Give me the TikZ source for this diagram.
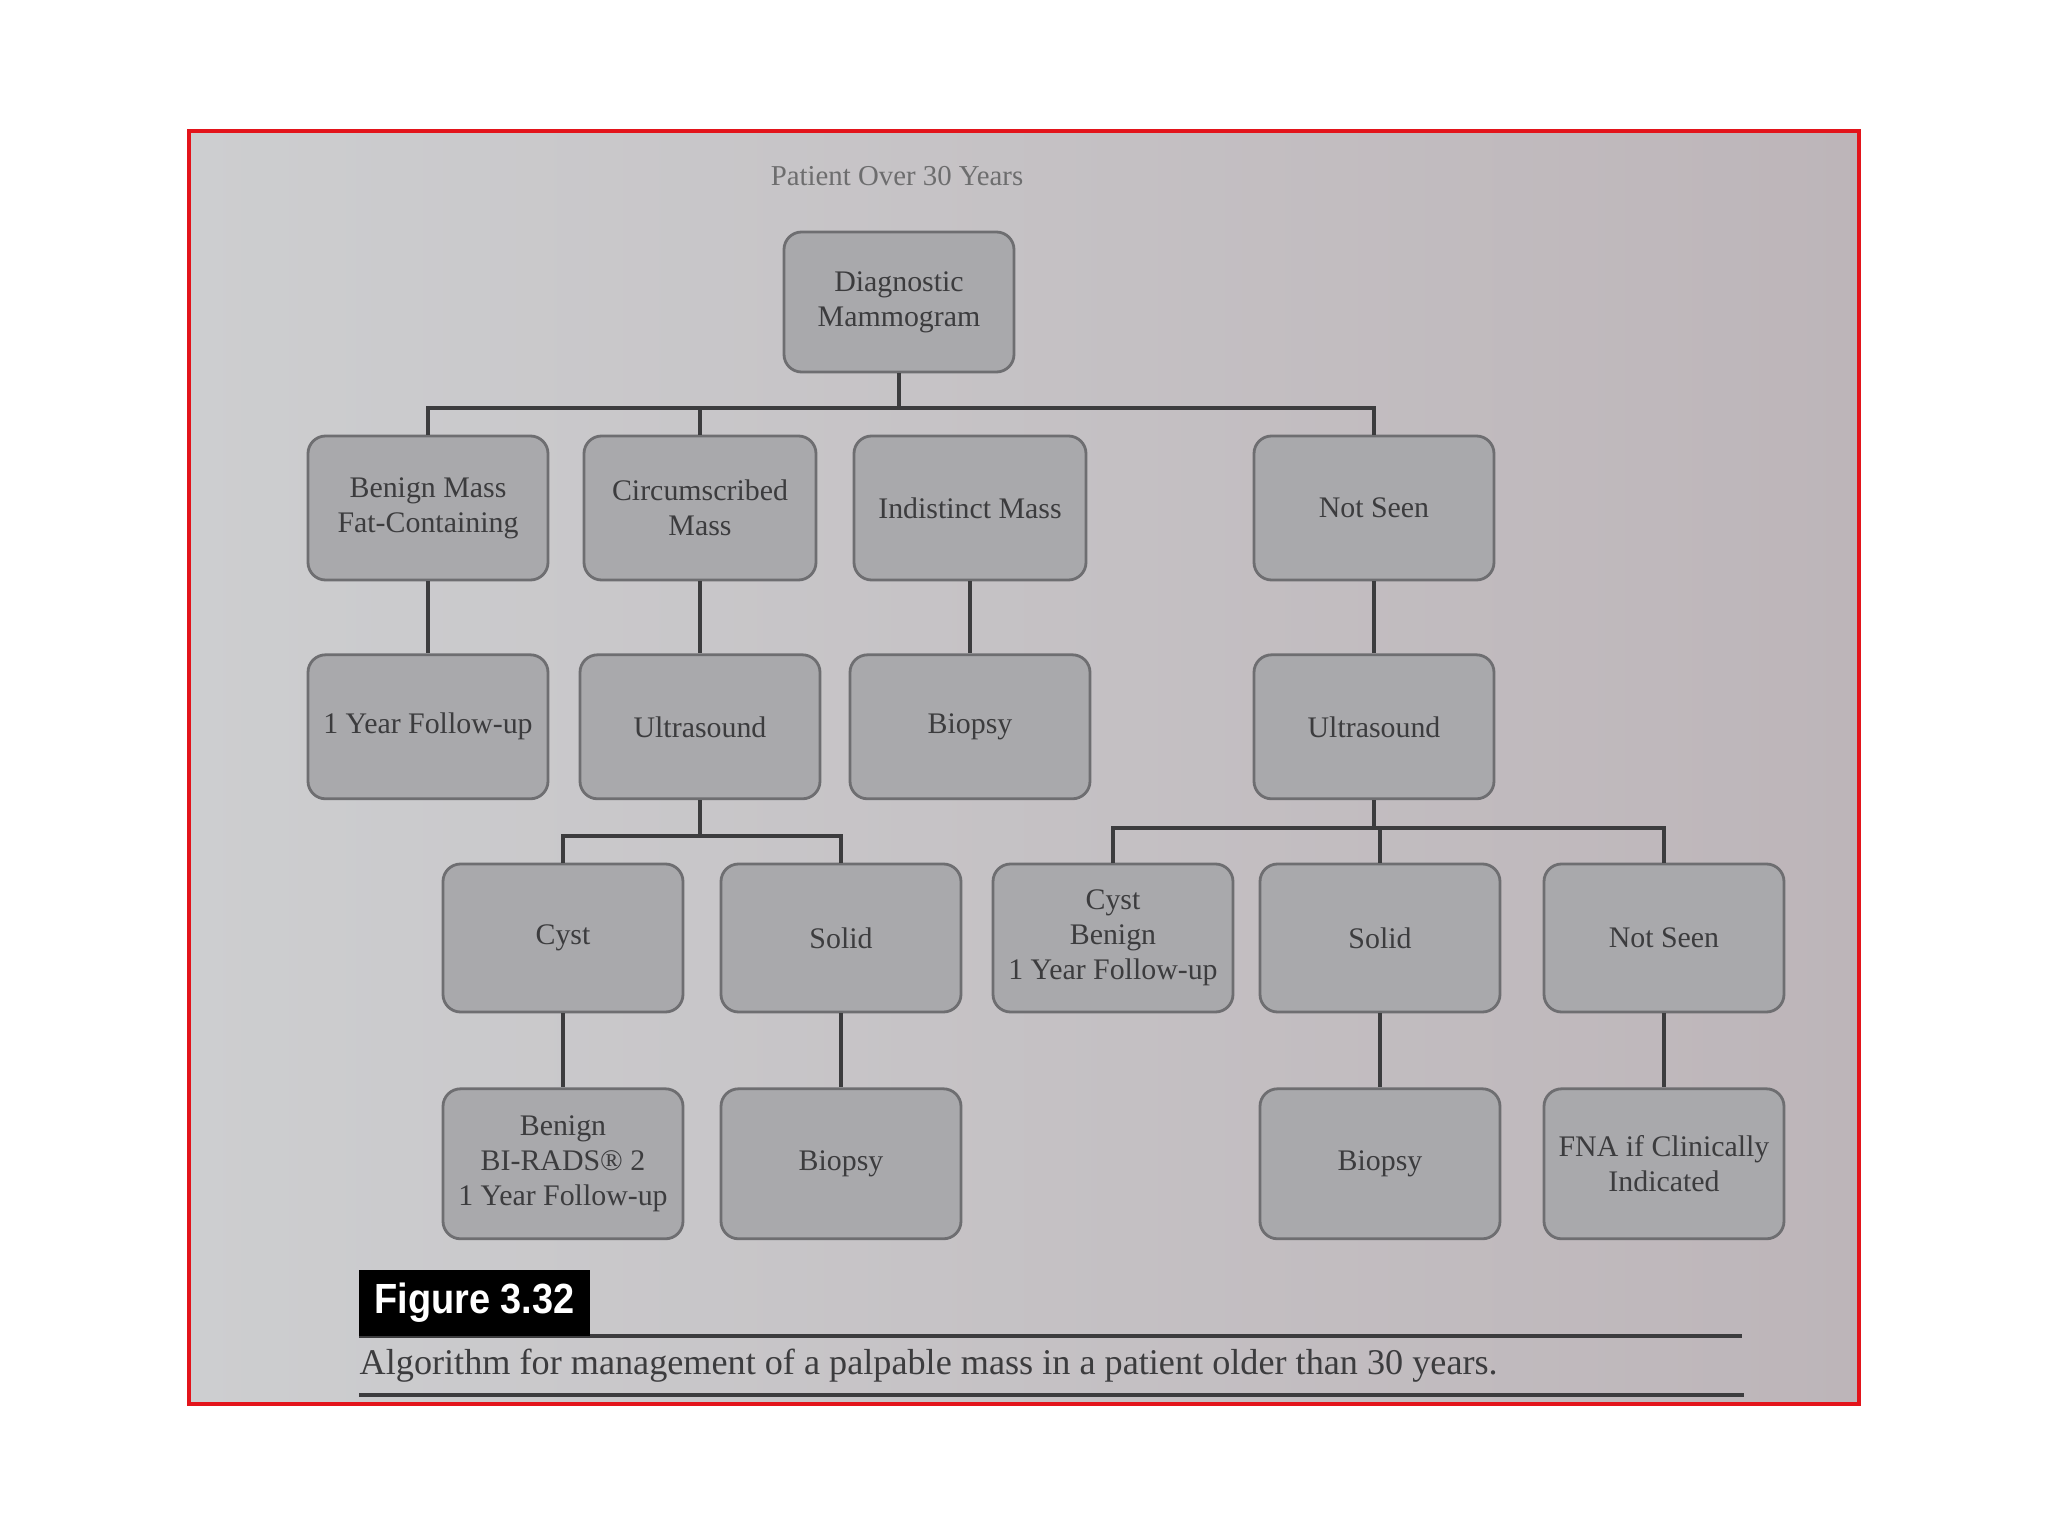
\documentclass[tikz,border=0pt]{standalone}
\usepackage{fontspec}
\setmainfont{Liberation Serif}
\newfontfamily\labelsans{Liberation Sans}
\usetikzlibrary{positioning}
\definecolor{PageGray}{HTML}{CDCED0}
\definecolor{PageRose}{HTML}{BDB5B9}
\definecolor{BoxGray}{HTML}{A9A9AC}
\definecolor{EdgeGray}{HTML}{6E6E71}
\definecolor{InkGray}{HTML}{3C3C3E}
\definecolor{FrameRed}{HTML}{E3141B}

\begin{document}
\begin{tikzpicture}[
    node distance=0.72cm,
    box/.style={draw=EdgeGray, line width=0.8pt, fill=BoxGray, rounded corners=5pt, minimum width=2.4cm, minimum height=1.44cm, align=center, text=InkGray, font=\fontsize{8.5}{10}\selectfont, inner sep=1pt},
    tallbox/.style={box, minimum height=1.5cm},
    link/.style={draw=InkGray, line width=0.9pt},
    rule/.style={draw=InkGray, line width=0.9pt}
  ]
    \useasboundingbox (0,0) rectangle (20.48,-15.36);
    \fill[white] (0,0) rectangle (20.48,-15.36);
    \shadedraw[left color=PageGray, right color=PageRose, draw=FrameRed, line width=1.3pt] (1.89,-1.31) rectangle (18.59,-14.04);

    % title and top of the tree
    \node[text=InkGray!75, font=\fontsize{8.2}{10}\selectfont] (title) at (8.97,-1.76) {Patient Over 30 Years};
    \node[box, minimum width=2.3cm, minimum height=1.4cm] (mammo) at (8.99,-3.02) {Diagnostic\\Mammogram};

    % findings on the mammogram
    \node[box] (benign) at (4.28,-5.08) {Benign Mass\\Fat-Containing};
    \node[box, minimum width=2.32cm] (circ) at (7.00,-5.08) {Circumscribed\\Mass};
    \node[box, minimum width=2.32cm] (indist) at (9.70,-5.08) {Indistinct Mass};
    \node[box] (notseen) at (13.74,-5.08) {Not Seen};

    \node[box, below=of benign] (followup) {1 Year Follow-up};
    \node[box, below=of circ] (usleft) {Ultrasound};
    \node[box, below=of indist] (biopsyA) {Biopsy};
    \node[box, below=of notseen] (usright) {Ultrasound};

    % findings on ultrasound
    \node[box, minimum height=1.48cm] (cyst) at (5.63,-9.38) {Cyst};
    \node[box, minimum height=1.48cm] (solidA) at (8.41,-9.38) {Solid};
    \node[box, minimum height=1.48cm] (cystbenign) at (11.13,-9.38) {Cyst\\Benign\\1 Year Follow-up};
    \node[box, minimum height=1.48cm] (solidB) at (13.80,-9.38) {Solid};
    \node[box, minimum height=1.48cm] (notseenB) at (16.64,-9.38) {Not Seen};

    \node[tallbox, below=0.74cm of cyst] (benignBR) {Benign\\BI-RADS® 2\\1 Year Follow-up};
    \node[tallbox, below=0.74cm of solidA] (biopsyB) {Biopsy};
    \node[tallbox, below=0.74cm of solidB] (biopsyC) {Biopsy};
    \node[tallbox, below=0.74cm of notseenB] (fna) {FNA if Clinically\\Indicated};

    % branch bars
    \coordinate (barA) at (0,-4.08);
    \coordinate (barB) at (0,-8.36);
    \coordinate (barC) at (0,-8.28);
    \draw[link] (mammo.south) -- (mammo.south |- barA);
    \draw[link] (benign.north) |- (notseen.north |- barA) -- (notseen.north);
    \draw[link] (circ.north) -- (circ.north |- barA);
    \draw[link] (usleft.south) -- (usleft.south |- barB);
    \draw[link] (cyst.north) |- (solidA.north |- barB) -- (solidA.north);
    \draw[link] (usright.south) -- (usright.south |- barC);
    \draw[link] (cystbenign.north) |- (notseenB.north |- barC) -- (notseenB.north);
    \draw[link] (solidB.north) -- (solidB.north |- barC);
    \foreach \from/\to in {benign/followup, circ/usleft, indist/biopsyA, notseen/usright,
                           cyst/benignBR, solidA/biopsyB, solidB/biopsyC, notseenB/fna}
      \draw[link] (\from) -- (\to);

    % figure caption
    \draw[rule] (3.59,-13.36) -- (17.42,-13.36);
    \node[fill=black, text=white, font=\labelsans\bfseries\fontsize{12}{14}\selectfont, minimum width=2.31cm, minimum height=0.66cm, inner sep=2pt] (figlabel) at (4.745,-13.03) {\scalebox{0.9}[1]{Figure 3.32}};
    \node[anchor=west, text=InkGray, font=\fontsize{10.3}{12}\selectfont, inner sep=0pt] (caption) at (3.59,-13.66) {Algorithm for management of a palpable mass in a patient older than 30 years.};
    \draw[rule] (3.59,-13.95) -- (17.44,-13.95);
  \end{tikzpicture}
\end{document}
